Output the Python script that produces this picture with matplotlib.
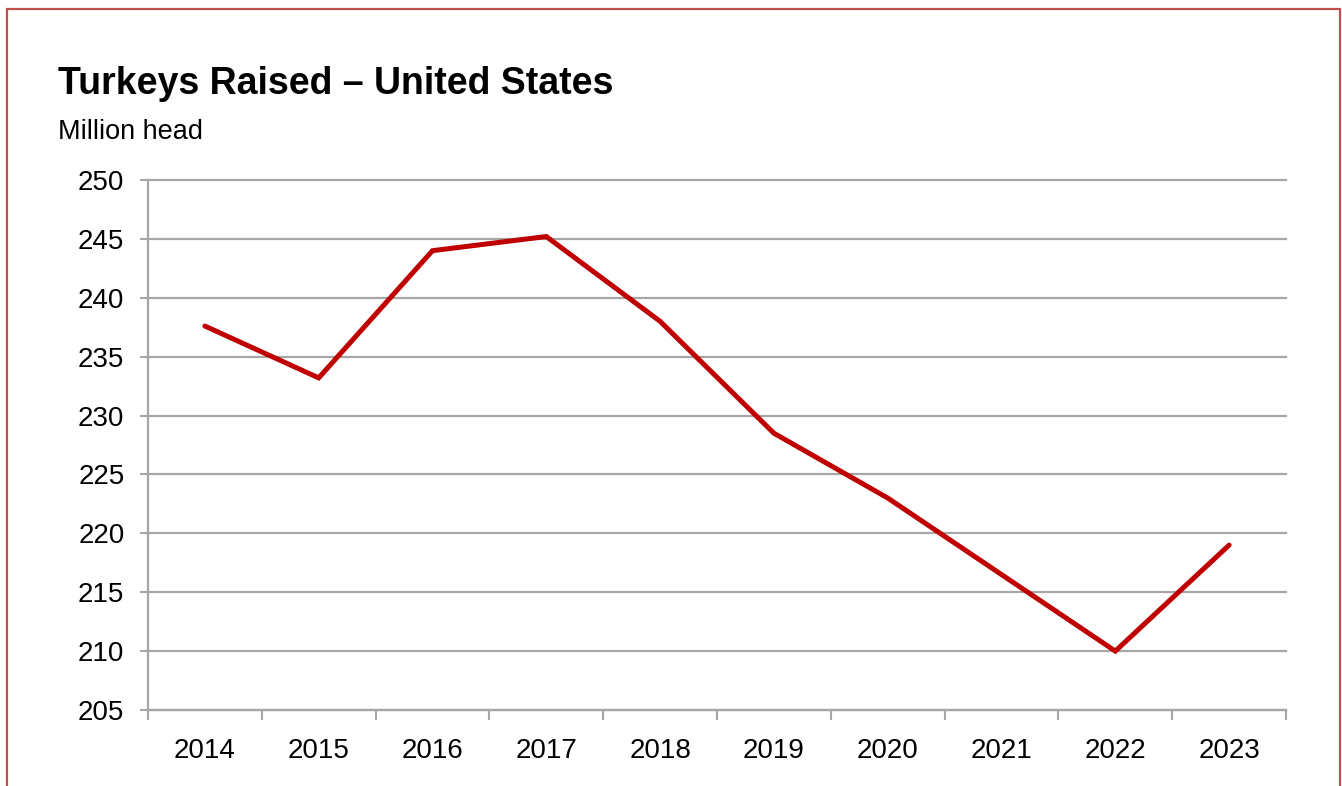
import matplotlib.pyplot as plt
from matplotlib.patches import Rectangle

# Data
years = ['2014', '2015', '2016', '2017', '2018', '2019', '2020', '2021', '2022', '2023']
turkeys_raised = [237.6, 233.2, 244.0, 245.2, 238.0, 228.5, 223.0, 216.5, 210.0, 219.0]
y_ticks = [205, 210, 215, 220, 225, 230, 235, 240, 245, 250]

plt.rcParams['font.family'] = ['Liberation Sans', 'DejaVu Sans']

fig = plt.figure(figsize=(13.42, 7.86), dpi=100)
ax = fig.add_axes([148 / 1342, 1 - 710 / 786, (1286 - 148) / 1342, (710 - 180) / 786])

grid_color = '#a6a6a6'

# Line
x = list(range(len(years)))
ax.plot(x, turkeys_raised, color='#c00000', linewidth=3.6, solid_capstyle='round',
        solid_joinstyle='miter', zorder=3)

# Axes ranges
ax.set_xlim(-0.5, len(years) - 0.5)
ax.set_ylim(y_ticks[0], y_ticks[-1])

# Y axis
ax.set_yticks(y_ticks)
ax.set_yticklabels([str(v) for v in y_ticks], fontsize=20)
ax.tick_params(axis='y', which='major', length=6, width=1.5, color=grid_color, pad=11)
ax.yaxis.grid(True, color=grid_color, linewidth=1.6)
ax.set_axisbelow(True)
# keep the top gridline at full width
for gl in ax.get_ygridlines():
    gl.set_clip_on(False)

# X axis: ticks at boundaries, labels at category centers
ax.set_xticks([i - 0.5 for i in range(len(years) + 1)])
ax.set_xticklabels([])
ax.set_xticks(x, minor=True)
ax.set_xticklabels(years, minor=True, fontsize=20)
ax.tick_params(axis='x', which='major', length=7, width=1.5, color=grid_color)
ax.tick_params(axis='x', which='minor', length=0, pad=20)

for side in ['top', 'right']:
    ax.spines[side].set_visible(False)
for side in ['left', 'bottom']:
    ax.spines[side].set_color(grid_color)
    ax.spines[side].set_linewidth(1.6)

# Titles
fig.text(58 / 1342, 1 - 94 / 786, 'Turkeys Raised \u2013 United States', fontsize=27,
         fontweight='bold', ha='left', va='baseline')
fig.text(58 / 1342, 1 - 139 / 786, 'Million head', fontsize=19.5, ha='left', va='baseline')

# Red frame around the chart
frame = Rectangle((7 / 1342, -0.05), (1340 - 7) / 1342, 1 - 9 / 786 + 0.05,
                  transform=fig.transFigure, fill=False, edgecolor='#c0504d',
                  linewidth=1.6, clip_on=False)
fig.patches.append(frame)

fig.savefig('out.png', dpi=100)
